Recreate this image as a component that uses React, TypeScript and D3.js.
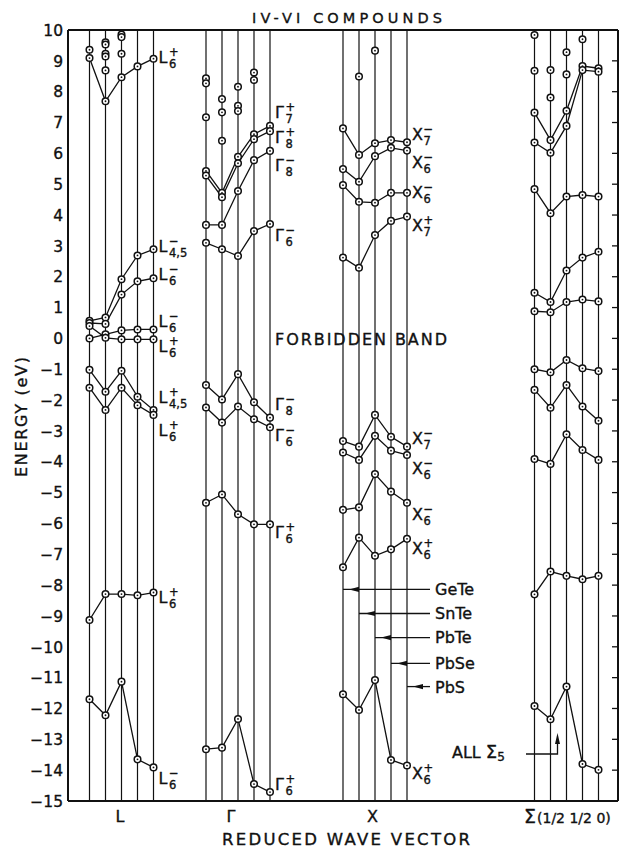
import React from "react";
import * as d3 from "d3";

// ---------- data ----------
const compounds = ["GeTe", "SnTe", "PbTe", "PbSe", "PbS"];
const kPoints = ["L", "Γ", "X", "Σ"];
const energyTicks = d3.range(-15, 11);

// bands: values for GeTe, SnTe, PbTe, PbSe, PbS (eV)
const lBands = [
  [9.09, 7.69, 8.47, 8.82, 9.07],
  [0.57, 0.68, 1.92, 2.69, 2.89],
  [0.5, 0.47, 1.42, 1.85, 1.95],
  [0.0, 0.13, 0.26, 0.29, 0.29],
  [0.4, 0.02, -0.03, -0.03, -0.03],
  [-1.02, -1.73, -1.05, -1.89, -2.32],
  [-1.6, -2.32, -1.6, -2.17, -2.48],
  [-9.13, -8.29, -8.29, -8.33, -8.24],
  [-11.7, -12.22, -11.13, -13.65, -13.91],
];
const lLoose = [
  [0, 9.36], [1, 9.6], [1, 9.53], [1, 9.23], [1, 9.14], [1, 8.69],
  [2, 9.85], [2, 9.77], [2, 9.23],
];
const lLabels = [
  { main: "L", sup: "+", sub: "6", e: 9.11 },
  { main: "L", sup: "−", sub: "4,5", e: 2.99 },
  { main: "L", sup: "−", sub: "6", e: 2.08 },
  { main: "L", sup: "−", sub: "6", e: 0.56 },
  { main: "L", sup: "+", sub: "6", e: -0.25 },
  { main: "L", sup: "+", sub: "4,5", e: -1.92 },
  { main: "L", sup: "+", sub: "6", e: -2.98 },
  { main: "L", sup: "+", sub: "6", e: -8.4 },
  { main: "L", sup: "−", sub: "6", e: -14.27 },
];

const gBands = [
  [5.43, 4.72, 5.89, 6.62, 6.89],
  [5.28, 4.58, 5.68, 6.46, 6.72],
  [3.68, 3.68, 4.78, 5.78, 6.08],
  [3.1, 2.89, 2.67, 3.48, 3.71],
  [-1.51, -1.98, -1.16, -2.07, -2.57],
  [-2.24, -2.73, -2.21, -2.62, -2.88],
  [-5.33, -5.06, -5.7, -6.03, -6.03],
  [-13.32, -13.27, -12.34, -14.45, -14.71],
];
const gLoose = [
  [0, 7.17], [0, 8.43], [0, 8.27],
  [1, 7.76], [1, 7.33], [1, 6.41],
  [2, 8.16], [2, 7.54], [2, 7.37],
  [3, 8.62], [3, 8.38],
];
const gLabels = [
  { main: "Γ", sup: "+", sub: "7", e: 7.32 },
  { main: "Γ", sup: "+", sub: "8", e: 6.53 },
  { main: "Γ", sup: "−", sub: "8", e: 5.62 },
  { main: "Γ", sup: "−", sub: "6", e: 3.35 },
  { main: "Γ", sup: "−", sub: "8", e: -2.12 },
  { main: "Γ", sup: "−", sub: "6", e: -3.14 },
  { main: "Γ", sup: "+", sub: "6", e: -6.3 },
  { main: "Γ", sup: "+", sub: "6", e: -14.46 },
];

const xBands = [
  [6.81, 5.95, 6.33, 6.43, 6.36],
  [5.49, 5.08, 5.91, 6.18, 6.09],
  [4.97, 4.43, 4.4, 4.72, 4.72],
  [2.62, 2.29, 3.35, 3.81, 3.95],
  [-3.33, -3.51, -2.48, -3.19, -3.51],
  [-3.7, -3.94, -3.16, -3.64, -3.78],
  [-5.56, -5.48, -4.4, -4.97, -5.33],
  [-7.42, -6.46, -7.05, -6.84, -6.5],
  [-11.54, -12.05, -11.08, -13.67, -13.85],
];
const xLoose = [[1, 8.49], [2, 9.33]];
const xLabels = [
  { main: "X", sup: "−", sub: "7", e: 6.63 },
  { main: "X", sup: "−", sub: "6", e: 5.7 },
  { main: "X", sup: "−", sub: "6", e: 4.73 },
  { main: "X", sup: "+", sub: "7", e: 3.67 },
  { main: "X", sup: "−", sub: "7", e: -3.22 },
  { main: "X", sup: "−", sub: "6", e: -4.2 },
  { main: "X", sup: "−", sub: "6", e: -5.7 },
  { main: "X", sup: "+", sub: "6", e: -6.79 },
  { main: "X", sup: "+", sub: "6", e: -14.09 },
];

const sBands = [
  [7.32, 6.43, 7.38, 8.83, 8.76],
  [6.35, 6.02, 6.89, 8.7, 8.65],
  [4.84, 4.06, 4.6, 4.65, 4.6],
  [1.48, 1.18, 2.2, 2.62, 2.81],
  [0.88, 0.85, 1.18, 1.26, 1.2],
  [-1.0, -1.1, -0.7, -0.97, -1.06],
  [-1.67, -2.25, -1.51, -2.21, -2.67],
  [-3.91, -4.07, -3.11, -3.62, -3.94],
  [-8.3, -7.56, -7.7, -7.81, -7.7],
  [-11.92, -12.35, -11.29, -13.8, -13.99],
];
const sLoose = [
  [0, 9.84], [0, 8.68], [1, 8.7], [1, 7.81], [2, 9.28], [2, 8.56], [3, 9.7],
];

const legendEnergies = [-8.14, -8.92, -9.7, -10.54, -11.29];

// ---------- layout ----------
const W = 641;
const H = 851;
const left = 68;
const right = 618;
const y = d3.scaleLinear().domain([-15, 10]).range([801, 30]);
const groupX = d3.scaleOrdinal<string, number>().domain(kPoints).range([121.5, 238, 375, 566.5]);
const slot = d3.scalePoint<string>().domain(compounds).range([-32, 32]);
const xOf = (g: number, c: number) => groupX(kPoints[g]) + (slot(compounds[c]) as number);

const INK = "#111";
const FONT = "'DejaVu Sans', 'Liberation Sans', sans-serif";
const TXT = { fill: INK, stroke: INK, strokeWidth: 0.35 };

const line = d3.line<[number, number]>().x((d) => d[0]).y((d) => d[1]);

function Marker({ cx, cy }: { cx: number; cy: number }) {
  return (
    <g>
      <circle cx={cx} cy={cy} r={3.3} fill="#fff" stroke={INK} strokeWidth={1.5} />
      <circle cx={cx} cy={cy} r={0.9} fill={INK} />
    </g>
  );
}

function BandLabel({ x, e, main, sup, sub }: any) {
  const base = y(e) + 5.8;
  const mw = main === "X" ? 11.5 : 10.5;
  return (
    <text x={x} y={base} fontFamily={FONT} fontSize={16} {...TXT}>
      {main}
      <tspan x={x + mw} dy={-7} fontSize={11.5}>{sup}</tspan>
      <tspan x={x + mw} dy={12} fontSize={11.5}>{sub}</tspan>
    </text>
  );
}

function Group({ g, bands, loose, labels }: any) {
  return (
    <g>
      {bands.map((b: number[], i: number) => (
        <path
          key={"b" + i}
          d={line(b.map((v, c) => [xOf(g, c), y(v)] as [number, number])) || ""}
          fill="none"
          stroke={INK}
          strokeWidth={1.3}
        />
      ))}
      {bands.map((b: number[], i: number) =>
        b.map((v, c) => <Marker key={"m" + i + "-" + c} cx={xOf(g, c)} cy={y(v)} />)
      )}
      {loose.map((p: number[], i: number) => (
        <Marker key={"l" + i} cx={xOf(g, p[0])} cy={y(p[1])} />
      ))}
      {labels &&
        labels.map((l: any, i: number) => (
          <BandLabel key={"t" + i} x={xOf(g, 4) + 5} e={l.e} main={l.main} sup={l.sup} sub={l.sub} />
        ))}
    </g>
  );
}

export default function App() {
  const fmt = (v: number) => (v < 0 ? "−" + Math.abs(v) : String(v));
  return (
    <svg width={W} height={H} style={{ display: "block", position: "absolute", left: 0, top: 0, background: "#fff" }}>
      <rect x={0} y={0} width={W} height={H} fill="#fff" />
      {/* vertical compound lines */}
      {kPoints.map((k, g) =>
        compounds.map((c, ci) => (
          <line key={k + c} x1={xOf(g, ci)} x2={xOf(g, ci)} y1={y(10)} y2={y(-15)} stroke={INK} strokeWidth={1.2} />
        ))
      )}
      {/* frame */}
      <line x1={left} x2={right} y1={y(10)} y2={y(10)} stroke={INK} strokeWidth={2} />
      <line x1={left} x2={right} y1={y(-15)} y2={y(-15)} stroke={INK} strokeWidth={2} />
      <line x1={left} x2={left} y1={y(10)} y2={y(-15)} stroke={INK} strokeWidth={2} />
      <line x1={right} x2={right} y1={y(10)} y2={y(-15)} stroke={INK} strokeWidth={2} />
      {energyTicks.filter((t) => t > -15 && t < 10).map((t) => (
        <line key={"rt" + t} x1={right - 6} x2={right} y1={y(t)} y2={y(t)} stroke={INK} strokeWidth={1.3} />
      ))}
      {/* tick labels */}
      <g fontFamily={FONT} fontSize={15.5} {...TXT} textAnchor="end">
        {energyTicks.map((t) => (
          <text key={"tl" + t} x={63} y={y(t)} dy="0.37em">{fmt(t)}</text>
        ))}
      </g>
      <text
        transform={`translate(27,${417}) rotate(-90)`}
        textAnchor="middle"
        fontFamily={FONT}
        fontSize={16}
        {...TXT}
        textLength={120}
        lengthAdjust="spacing"
      >
        ENERGY (eV)
      </text>
      {/* titles */}
      <text x={252} y={23} fontFamily={FONT} fontSize={14.5} {...TXT} textLength={190} lengthAdjust="spacing">
        IV-VI COMPOUNDS
      </text>
      <text x={275} y={345} fontFamily={FONT} fontSize={16} {...TXT} textLength={172} lengthAdjust="spacing">
        FORBIDDEN BAND
      </text>
      <text x={222} y={845} fontFamily={FONT} fontSize={16.5} {...TXT} textLength={248} lengthAdjust="spacing">
        REDUCED WAVE VECTOR
      </text>
      {/* k-point labels */}
      <g fontFamily={FONT} fontSize={16} {...TXT} textAnchor="middle">
        <text x={groupX("L") - 1.5} y={822}>L</text>
        <text x={groupX("Γ") - 7} y={822}>Γ</text>
        <text x={groupX("X") - 2.5} y={822}>X</text>
      </g>
      <text x={524} y={823} fontFamily={FONT} {...TXT}>
        <tspan fontSize={19}>Σ</tspan>
        <tspan fontSize={14} dx={1}>(1/2 1/2 0)</tspan>
      </text>

      <Group g={0} bands={lBands} loose={lLoose} labels={lLabels} />
      <Group g={1} bands={gBands} loose={gLoose} labels={gLabels} />
      <Group g={2} bands={xBands} loose={xLoose} labels={xLabels} />
      <Group g={3} bands={sBands} loose={sLoose} labels={null} />

      {/* compound legend arrows */}
      {compounds.map((c, ci) => {
        const x0 = xOf(2, ci);
        const yy = y(legendEnergies[ci]);
        const tip = x0 + 6;
        return (
          <g key={"lg" + c}>
            <line x1={x0} x2={430} y1={yy} y2={yy} stroke={INK} strokeWidth={1.3} />
            <path d={`M${tip},${yy} L${tip + 10},${yy - 2.6} L${tip + 10},${yy + 2.6} Z`} fill={INK} />
            <text x={435} y={yy} dy="0.37em" fontFamily={FONT} fontSize={16} {...TXT}>{c}</text>
          </g>
        );
      })}

      {/* ALL Sigma5 annotation */}
      <text x={452} y={758} fontFamily={FONT} {...TXT}>
        <tspan fontSize={16}>ALL </tspan>
        <tspan fontSize={18}>Σ</tspan>
        <tspan fontSize={12} dy={3}>5</tspan>
      </text>
      <path d={`M526,754 L557.5,754 L557.5,741`} fill="none" stroke={INK} strokeWidth={1.3} />
      <path d={`M557.5,733 L555,744 L560,744 Z`} fill={INK} />
    </svg>
  );
}
